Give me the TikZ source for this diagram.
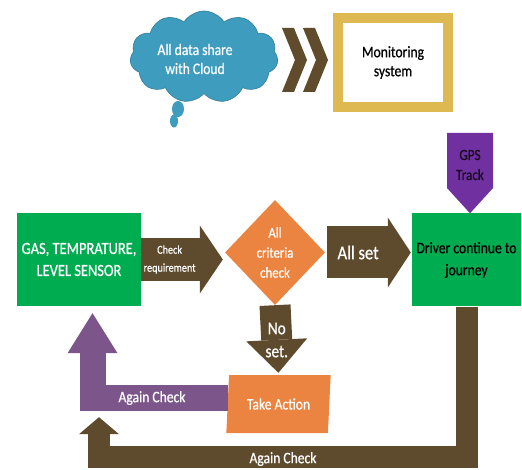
\documentclass[tikz,border=0pt]{standalone}
\usepackage{fontspec}
\setmainfont{Carlito}[FakeStretch=0.85,FakeBold=0.6]
\usetikzlibrary{shapes.geometric,shapes.symbols,arrows.meta,calc}
\definecolor{cloudblue}{RGB}{62,156,190}
\definecolor{chevbrown}{RGB}{96,76,44}
\definecolor{framegold}{RGB}{222,184,80}
\definecolor{boxgreen}{RGB}{0,172,80}
\definecolor{critorange}{RGB}{234,132,64}
\definecolor{arrbrown}{RGB}{94,75,45}
\definecolor{gpspurple}{RGB}{112,48,160}
\definecolor{mauve}{RGB}{124,86,138}
\newcommand{\fnt}[2]{\fontsize{#1}{#2}\selectfont}

\begin{document}
\begin{tikzpicture}[x=1pt,y=-1pt,
  txt/.style={font=\fnt{16}{19}, align=center, text=white, inner sep=0pt},
  sensorbox/.style={txt, fill=boxgreen, minimum height=93pt},
  blockarrow/.style={draw=arrbrown, line join=miter},
  ]
  \useasboundingbox[fill=white] (0,0) rectangle (522,470);

  % top row
  \node[cloud, cloud puffs=11, cloud puff arc=115, aspect=1.6, fill=cloudblue,
        draw=cloudblue!80!black, line width=0.6pt, minimum width=148pt,
        minimum height=92pt] (cloud) at (204,57) {};
  \fill[cloudblue] (178,109) ellipse (6 and 8);
  \fill[cloudblue] (174,121) ellipse (4 and 6.5);
  \node[txt] (share) at (195,59) {All data share\\with Cloud};
  \node[draw=framegold, line width=10pt, fill=white, minimum width=110pt,
        minimum height=89pt, txt, text=black] (monitor) at (393,62.5) {Monitoring\\system};
  \foreach \dx in {0,21}
    \fill[chevbrown] (282+\dx,28) -- (294+\dx,28) -- (307+\dx,60) -- (294+\dx,92)
      -- (282+\dx,92) -- (295+\dx,60) -- cycle;

  % main row
  \node[sensorbox, minimum width=124pt, font=\fnt{17}{22}] (gas) at (79,259.5) {GAS, TEMPRATURE,\\LEVEL SENSOR};
  \node[diamond, fill=critorange, minimum width=100pt, minimum height=105pt,
        txt, font=\fnt{15}{20}] (crit) at (275,252.5) {All\\criteria\\check};
  \node[sensorbox, minimum width=109pt, text=black, font=\fnt{16}{22}] (driver) at (466.5,260) {Driver continue to\\journey};
  \fill[gpspurple] (447,133) -- (493,133) -- (493,188) -- (driver.north -| 470,0)
    -- (447,188) -- cycle;
  \node[txt, font=\fnt{15.5}{20}, text=black!80!gpspurple] (gps) at (470,165) {GPS\\Track};
  \node[trapezium, trapezium left angle=81, trapezium right angle=99, trapezium stretches=true,
        fill=critorange, minimum width=105pt, minimum height=58pt, txt] (act) at (278.5,404) {Take Action};

  % connectors
  \draw[blockarrow, line width=43pt, shorten >=2pt,
        -{Triangle[length=23pt,width=68pt,line width=0pt]}]
    (gas.east) -- (gas.east -| crit.west)
    node[pos=0.34, txt, font=\fnt{12}{18}] (chk) {Check\\requirement};
  \draw[blockarrow, line width=52pt, shorten <=2pt, shorten >=1pt,
        -{Triangle[length=23pt,width=70pt,line width=0pt]}]
    (crit.east) -- (crit.east -| driver.west)
    node[pos=0.38, txt, font=\fnt{19.5}{22}] (allset) {All set};
  \draw[blockarrow, line width=31pt, shorten >=2pt,
        -{Triangle[length=33pt,width=61pt,line width=0pt]}]
    (crit.south) -- (act.north)
    node[pos=0.5, txt, font=\fnt{18}{23}] (noset) {No\\set.};
  \draw[draw=mauve, line join=miter, line width=26pt,
        -{Triangle[length=40pt,width=50pt,line width=0pt]}]
    ($(act.west)+(0,-6)$) -| ($(gas.south)+(13.5,7)$);
  \node[txt] (again1) at (152,398) {Again Check};
  \coordinate (back) at ($(gas.south)+(20,111)$);
  \draw[blockarrow, line width=22pt,
        -{Triangle[length=17pt,width=40pt,line width=0pt]}]
    (driver.south) |- ($(back)+(0,40)$) -- (back);
  \node[txt] (again2) at (283,459) {Again Check};
\end{tikzpicture}
\end{document}
